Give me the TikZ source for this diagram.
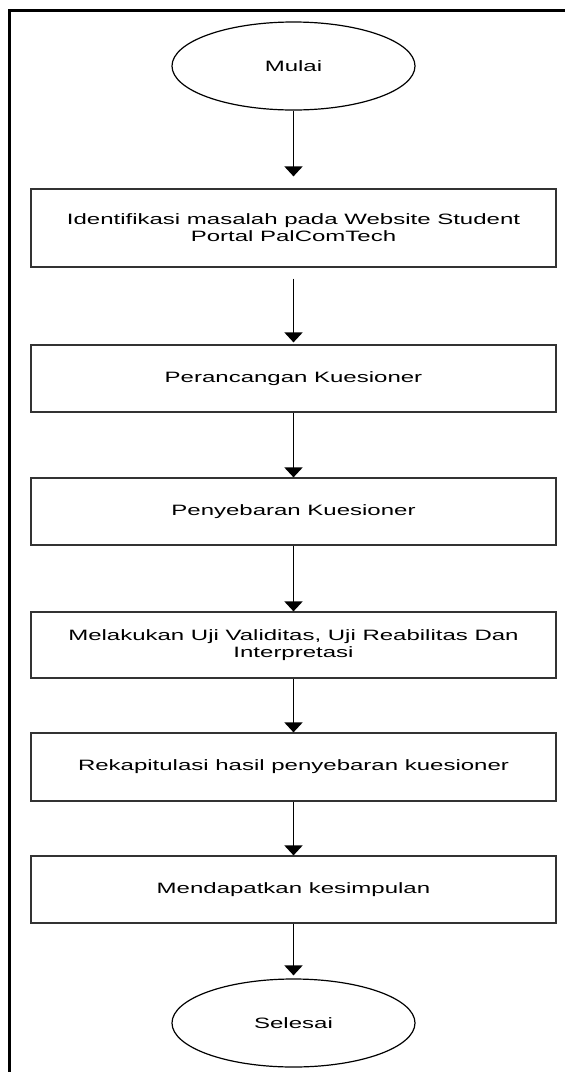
\documentclass[tikz,border=0pt]{standalone}
\usepackage{fontspec}
\setmainfont{Liberation Sans}[FakeStretch=1.6]
\usetikzlibrary{arrows.meta,shapes.geometric}
\begin{document}
\begin{tikzpicture}[x=1pt,y=-1pt,
  txt/.style={font=\fontsize{15}{17}\selectfont},
  stepbox/.style={txt, draw=black!80, line width=1.2pt, rectangle, minimum width=525pt, inner sep=0pt, align=center},
  term/.style={txt, draw=black, line width=1.2pt, ellipse, minimum width=243pt, minimum height=88pt, inner sep=0pt},
  arr/.style={line width=1.9pt, -{Triangle[width=18pt,length=10pt]}}]
\useasboundingbox (0,0) rectangle (565,1072);
\fill[white] (0,0) rectangle (565,1072);
\draw[line width=3pt] (9,1090) -- (9,10) -- (590,10);
\node[term] (mulai) at (293.5,66) {Mulai};
\node[stepbox, minimum height=78pt] (b1) at (293.5,228) {Identifikasi masalah pada Website Student\\Portal PalComTech};
\node[stepbox, minimum height=67pt] (b2) at (293.5,378.5) {Perancangan Kuesioner};
\node[stepbox, minimum height=67pt] (b3) at (293.5,511.5) {Penyebaran Kuesioner};
\node[stepbox, minimum height=66pt] (b4) at (293.5,645) {Melakukan Uji Validitas, Uji Reabilitas Dan\\Interpretasi};
\node[stepbox, minimum height=68pt] (b5) at (293.5,767) {Rekapitulasi hasil penyebaran kuesioner};
\node[stepbox, minimum height=67pt] (b6) at (293.5,889.5) {Mendapatkan kesimpulan};
\node[term] (selesai) at (293.5,1023) {Selesai};
\draw[arr, shorten >=12pt] (mulai) -- (b1);
\draw[arr, shorten <=11pt, shorten >=2pt] (b1) -- (b2);
\draw[arr] (b2) -- (b3);
\draw[arr] (b3) -- (b4);
\draw[arr] (b4) -- (b5);
\draw[arr] (b5) -- (b6);
\draw[arr, shorten >=3pt] (b6) -- (selesai);
\end{tikzpicture}
\end{document}
